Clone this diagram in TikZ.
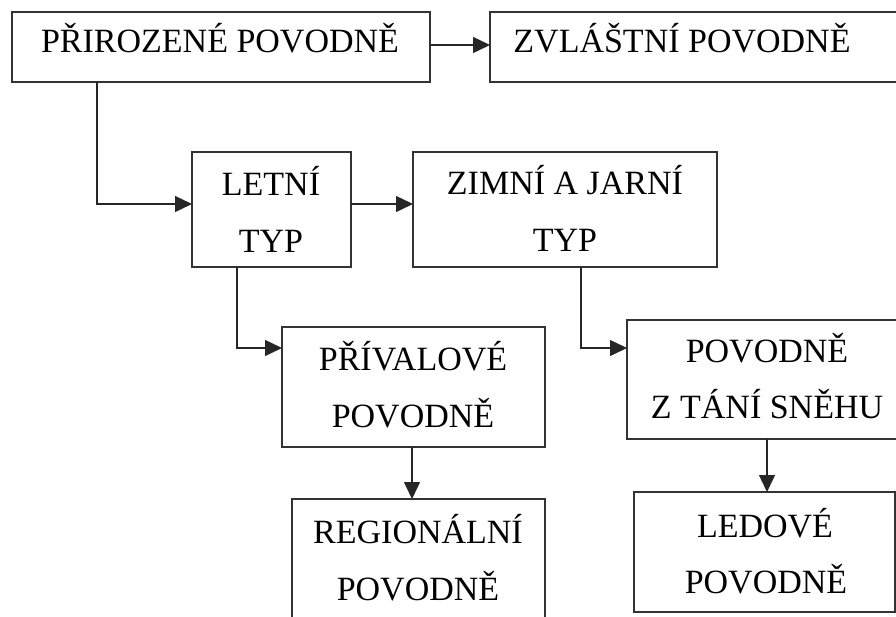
\documentclass[tikz,border=0pt]{standalone}
\usepackage{fontspec}
\setmainfont{Liberation Serif}
\usetikzlibrary{arrows.meta,calc}
\begin{document}
\begin{tikzpicture}[x=1pt,y=-1pt,
  box/.style={draw=black!80, line width=1.3pt, inner sep=0pt, outer sep=0pt, anchor=north west, fill=none},
  lbl/.style={anchor=base, inner sep=0pt, font=\fontsize{34}{40}\selectfont, text=black},
  conn/.style={draw=black!85, line width=1.4pt, -{Triangle[length=17pt,width=16pt]}}]
\useasboundingbox (0,0) rectangle (896,616);
\clip (0,0) rectangle (896,616);
% boxes
\node[box, minimum width=418pt, minimum height=70pt] (pri) at (12,12) {};
\node[box, minimum width=420pt, minimum height=70pt] (zvl) at (490,12) {};
\node[box, minimum width=159pt, minimum height=115pt] (let) at (192,152) {};
\node[box, minimum width=304pt, minimum height=115pt] (zim) at (413,152) {};
\node[box, minimum width=263pt, minimum height=120pt] (prv) at (282,327) {};
\node[box, minimum width=253pt, minimum height=140pt] (reg) at (292,499) {};
\node[box, minimum width=280pt, minimum height=119pt] (tan) at (627,320) {};
\node[box, minimum width=261pt, minimum height=120pt] (led) at (634,492) {};
% texts
\node[lbl] (tpri) at (220,52) {PŘIROZENÉ POVODNĚ};
\node[lbl] (tzvl) at (682,52) {ZVLÁŠTNÍ POVODNĚ};
\node[lbl] (tlet1) at (271,195) {LETNÍ};
\node[lbl] (tlet2) at (271,252) {TYP};
\node[lbl] (tzim1) at (565,194) {ZIMNÍ A JARNÍ};
\node[lbl] (tzim2) at (565,251) {TYP};
\node[lbl] (tprv1) at (413,370) {PŘÍVALOVÉ};
\node[lbl] (tprv2) at (413,427) {POVODNĚ};
\node[lbl] (treg1) at (418,543) {REGIONÁLNÍ};
\node[lbl] (treg2) at (418,600) {POVODNĚ};
\node[lbl] (ttan1) at (767,362) {POVODNĚ};
\node[lbl] (ttan2) at (767,418) {Z TÁNÍ SNĚHU};
\node[lbl] (tled1) at (765,537) {LEDOVÉ};
\node[lbl] (tled2) at (766,593) {POVODNĚ};
% connector end points
\coordinate (priout) at ($(pri.south west)+(85,0)$);
\coordinate (letout) at ($(let.south west)+(45,0)$);
\coordinate (zimout) at ($(zim.south west)+(168,0)$);
\coordinate (prvout) at ($(prv.south west)+(130,0)$);
\coordinate (prvin) at ($(prv.north west)+(0,21)$);
\coordinate (tanin) at ($(tan.north west)+(0,28)$);
% connectors
\draw[conn] ([yshift=2pt]pri.east) -- ([yshift=2pt]zvl.west);
\draw[conn] (priout) |- ([yshift=5.5pt]let.west);
\draw[conn] ([yshift=5.5pt]let.east) -- ([yshift=5.5pt]zim.west);
\draw[conn] (letout) |- (prvin);
\draw[conn] (zimout) |- (tanin);
\draw[conn] (prvout) -- (prvout |- reg.north);
\draw[conn] (tan.south) -- (tan.south |- led.north);
\end{tikzpicture}
\end{document}
